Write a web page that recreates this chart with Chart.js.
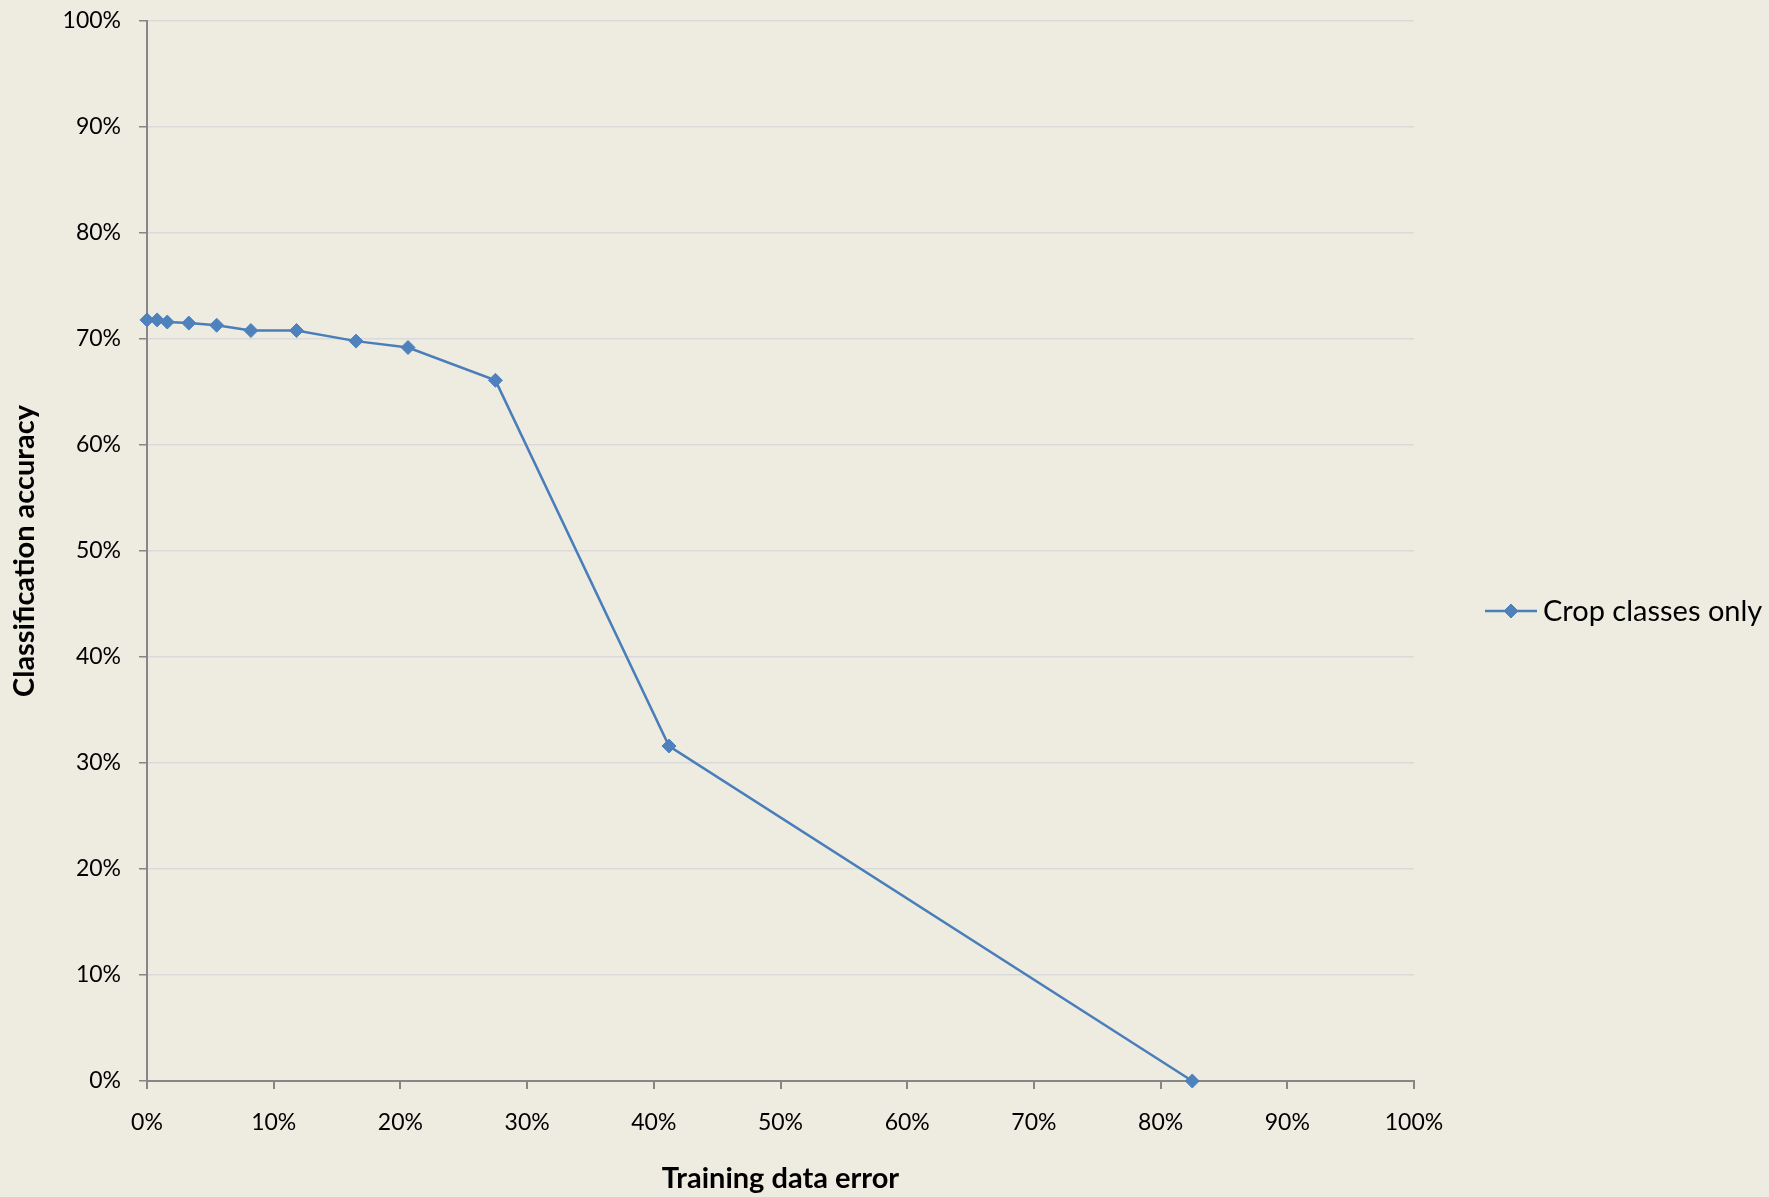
<!DOCTYPE html>
<html>
<head>
<meta charset="utf-8">
<script src="https://cdn.jsdelivr.net/npm/chart.js@4/dist/chart.umd.min.js"></script>
<style>
  html, body { margin: 0; padding: 0; background: #EEECE1; }
  #wrap { width: 1769px; height: 1197px; position: relative; }
</style>
</head>
<body>
<div id="wrap"><canvas id="chart"></canvas></div>
<script>
// Series: classification accuracy (%) against training data error (%)
const seriesName = 'Crop classes only';
const trainingError = [0, 0.8, 1.6, 3.3, 5.5, 8.2, 11.8, 16.5, 20.6, 27.5, 41.2, 82.5];
const accuracy      = [71.8, 71.8, 71.6, 71.5, 71.3, 70.8, 70.8, 69.8, 69.2, 66.1, 31.6, 0];
const xAxisTitle = 'Training data error';
const yAxisTitle = 'Classification accuracy';
const percentTicks = [0, 10, 20, 30, 40, 50, 60, 70, 80, 90, 100];

const lineColor = '#4A7EBB';
const pointColor = '#4F81BD';
const axisColor = '#868686';
const gridColor = '#D9D9D9';
const fontFamily = 'Lato, "Open Sans", sans-serif';

// Legend drawn to the right of the plot: a short line with a diamond marker
const sideLegend = {
  id: 'sideLegend',
  afterDraw(chart, args, opts) {
    const ds = chart.data.datasets[0];
    const ctx = chart.ctx;
    const x0 = opts.x, y = opts.y, len = opts.lineLength;
    ctx.save();
    ctx.strokeStyle = ds.borderColor;
    ctx.lineWidth = ds.borderWidth;
    ctx.beginPath();
    ctx.moveTo(x0, y);
    ctx.lineTo(x0 + len, y);
    ctx.stroke();
    ctx.fillStyle = ds.pointBackgroundColor;
    ctx.strokeStyle = ds.pointBorderColor;
    ctx.lineWidth = ds.pointBorderWidth;
    const r = ds.pointRadius;
    const cx = x0 + len / 2;
    ctx.beginPath();
    ctx.moveTo(cx, y - r);
    ctx.lineTo(cx + r, y);
    ctx.lineTo(cx, y + r);
    ctx.lineTo(cx - r, y);
    ctx.closePath();
    ctx.fill();
    ctx.stroke();
    ctx.fillStyle = '#000000';
    ctx.font = opts.font;
    ctx.textAlign = 'left';
    ctx.textBaseline = 'middle';
    ctx.fillText(ds.label, x0 + len + 6, y + 1);
    ctx.restore();
  }
};

const points = trainingError.map((x, i) => ({ x: x, y: accuracy[i] }));

new Chart(document.getElementById('chart'), {
  type: 'scatter',
  data: {
    datasets: [{
      label: seriesName,
      data: points,
      showLine: true,
      borderColor: lineColor,
      borderWidth: 2.5,
      pointStyle: 'rectRot',
      pointRadius: 7,
      pointHoverRadius: 7,
      pointBackgroundColor: pointColor,
      pointBorderColor: pointColor,
      pointBorderWidth: 1,
      clip: false,
      tension: 0
    }]
  },
  options: {
    responsive: true,
    maintainAspectRatio: false,
    animation: false,
    events: [],
    layout: { padding: { top: 21, right: 355, bottom: 0, left: 0 } },
    plugins: {
      legend: { display: false },
      tooltip: { enabled: false },
      sideLegend: { x: 1485, y: 611, lineLength: 52, font: '29px ' + fontFamily }
    },
    scales: {
      x: {
        type: 'linear',
        min: 0,
        max: 100,
        afterFit(scale) { scale.height = 116; },
        afterBuildTicks(scale) { scale.ticks = percentTicks.map(v => ({ value: v })); },
        ticks: {
          padding: 20,
          color: '#000000',
          font: { family: fontFamily, size: 23 },
          maxRotation: 0,
          callback: v => v + '%'
        },
        grid: {
          drawOnChartArea: false,
          drawTicks: true,
          tickLength: 8,
          color: axisColor,
          lineWidth: 2
        },
        border: { display: true, color: axisColor, width: 2 },
        title: {
          display: true,
          text: xAxisTitle,
          color: '#000000',
          font: { family: fontFamily, size: 29, weight: 'bold' },
          padding: { top: 0, bottom: 1 }
        }
      },
      y: {
        type: 'linear',
        min: 0,
        max: 100,
        afterFit(scale) { scale.width = 147; scale.paddingTop = 0; },
        afterBuildTicks(scale) { scale.ticks = percentTicks.map(v => ({ value: v })); },
        ticks: {
          padding: 18,
          color: '#000000',
          font: { family: fontFamily, size: 23 },
          callback: v => v + '%'
        },
        grid: {
          drawOnChartArea: true,
          drawTicks: true,
          tickLength: 8,
          color: gridColor,
          tickColor: axisColor,
          lineWidth: 1.5
        },
        border: { display: true, color: axisColor, width: 2 },
        title: {
          display: true,
          text: yAxisTitle,
          color: '#000000',
          font: { family: fontFamily, size: 29, weight: 'bold' },
          padding: { top: 7, bottom: 0 }
        }
      }
    }
  },
  plugins: [sideLegend]
});
</script>
</body>
</html>
